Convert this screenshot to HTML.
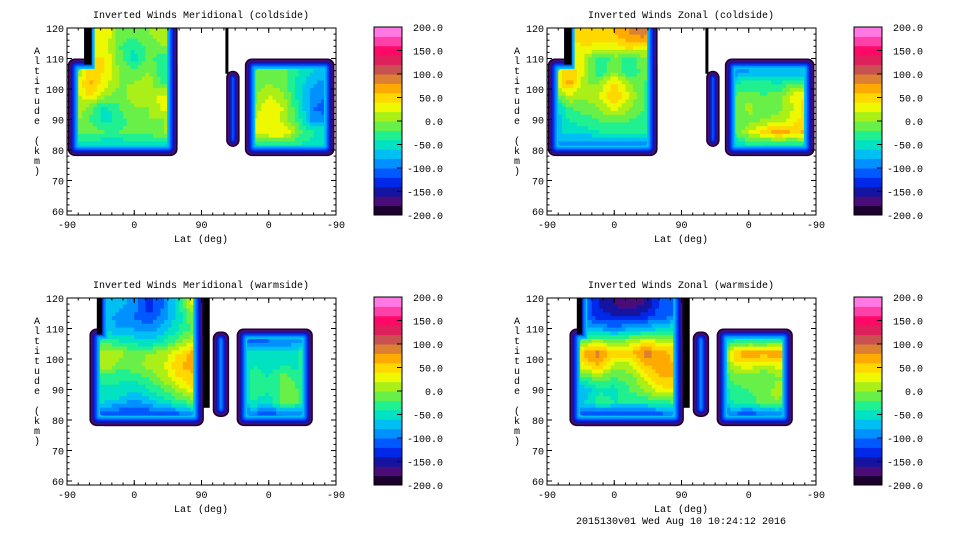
<!DOCTYPE html>
<html><head><meta charset="utf-8"><style>
html,body{margin:0;padding:0;background:#fff;width:960px;height:540px;overflow:hidden}
svg text{font-family:"Liberation Mono","DejaVu Sans Mono",monospace;font-size:10px;fill:#000}
</style></head><body>
<svg id="chart" width="960" height="540" viewBox="0 0 960 540" xmlns="http://www.w3.org/2000/svg"></svg>
<script>
// ---- data ----
const colorLevels=[-200,-180,-160,-140,-120,-100,-80,-60,-40,-20,0,20,40,60,80,100,120,140,160,180,200];
const colorbarTicks=[-200,-150,-100,-50,0,50,100,150,200];
const xTickPositions=[0,90,180,270,360];
const xTickLabels=["-90","0","90","0","-90"];
const yTickValues=[60,70,80,90,100,110,120];
const gridAlts=[118,114,110,106,102,98,94,90,86,82];
const gridPs=[10,30,50,70,90,110,130,150,170,190,210,230,250,270,290,310,330,350];
const titles=["Inverted Winds Meridional (coldside)","Inverted Winds Zonal (coldside)","Inverted Winds Meridional (warmside)","Inverted Winds Zonal (warmside)"];
const merCold=[
[0,30,40,-10,-10,0,10,-10,-180,-180,-170,-170,-10,0,-10,-30,-50,-60],
[0,30,40,-20,-40,-10,0,-10,-180,-180,-170,-170,-10,0,-10,-30,-50,-60],
[0,40,40,-10,-50,-10,-40,-10,-180,-180,-170,-170,-10,0,-10,-30,-50,-60],
[-10,50,40,0,-10,0,-40,-10,-180,-180,-170,-170,-10,0,-10,-40,-60,-70],
[0,70,30,0,0,10,-30,0,-180,-180,-170,-170,-10,0,-10,-50,-80,-90],
[10,40,10,-10,10,10,30,0,-180,-180,-170,-170,-10,20,0,-50,-90,-100],
[20,-10,-50,-20,0,0,30,0,-180,-180,-170,-170,0,40,20,-40,-100,-110],
[10,-20,-50,-30,-10,0,0,0,-180,-180,-170,-170,20,40,10,-30,-90,-100],
[-10,-10,-20,-20,-10,-10,0,0,-180,-180,-170,-170,30,40,40,-10,-40,-40],
[-50,-50,-60,-60,-50,-50,-50,-50,-180,-180,-170,-170,-30,-30,-30,-40,-50,-50]];
const zonCold=[
[-10,40,60,50,60,80,90,50,-180,-180,-170,-170,-100,-80,-80,-80,-80,-80],
[-10,30,40,30,30,50,40,20,-180,-180,-170,-170,-100,-80,-80,-80,-80,-80],
[0,20,20,-40,-10,-30,-10,-30,-180,-180,-170,-170,-100,-80,-80,-80,-80,-80],
[10,60,20,-40,0,-40,-10,-40,-180,-180,-170,-170,-100,-80,-80,-80,-80,-80],
[20,70,0,0,50,0,-20,-40,-180,-180,-170,-170,-40,-30,-30,-40,-20,-30],
[-20,20,0,20,60,20,-20,-30,-180,-180,-170,-170,-20,-10,-20,-10,30,40],
[-70,-20,-10,0,30,0,-20,-20,-180,-180,-170,-170,-20,10,-20,-10,20,60],
[-80,-40,-30,-20,-10,-20,-30,-30,-180,-180,-170,-170,-20,-10,0,10,30,60],
[-70,-50,-50,-40,-40,-40,-40,-40,-180,-180,-170,-170,-20,20,50,80,50,70],
[-90,-90,-100,-100,-100,-100,-100,-100,-180,-180,-170,-170,-60,-40,-40,-50,-40,-30]];
const merWarm=[
[-60,-60,-60,-70,-90,-130,-100,-40,30,-180,-140,-120,-110,-100,-100,-90,-30,-30],
[-60,-60,-70,-90,-100,-120,-90,-50,0,-180,-140,-120,-110,-100,-100,-90,-30,-30],
[-60,-60,-60,-80,-80,-90,-70,-40,-10,-180,-140,-120,-110,-100,-100,-90,-30,-30],
[-40,-40,-30,-40,-50,-60,-40,-10,20,-180,-140,-120,-110,-100,-100,-90,-30,-30],
[-20,-20,20,10,-10,0,10,40,70,-180,-140,-60,-50,-50,-50,-40,40,40],
[-20,-20,20,-10,-10,10,20,60,70,-180,-140,-60,-40,-50,-40,-50,20,20],
[-40,-40,-30,-40,-30,-20,10,40,60,-180,-140,-60,-30,-40,-10,-30,-30,-30],
[-60,-60,-50,-40,-60,-40,-20,10,40,-180,-140,-60,-30,-40,-10,-20,-40,-40],
[-60,-60,-60,-70,-90,-70,-50,-30,-10,-180,-140,-60,-40,-50,-10,-20,-40,-40],
[-100,-100,-110,-120,-120,-120,-120,-110,-90,-180,-140,-110,-100,-120,-100,-100,-100,-100]];
const zonWarm=[
[-80,-80,-100,-140,-160,-170,-160,-120,-120,-190,-190,-80,-40,-30,-30,-20,-30,-30],
[-80,-80,-110,-130,-140,-140,-130,-110,-100,-190,-190,-80,-40,-30,-30,-20,-30,-30],
[-60,-60,-70,-80,-90,-80,-70,-60,-40,-190,-190,-80,-40,-30,-30,-20,-30,-30],
[-40,-40,-10,10,-10,10,30,20,20,-190,-190,-80,-40,-30,-30,-20,-30,-30],
[-30,-30,70,90,50,50,90,80,50,-190,-190,-60,60,80,70,80,60,60],
[-20,-20,40,60,10,10,60,70,60,-190,-190,-60,20,30,10,30,20,20],
[-40,-40,-20,-10,-20,-10,20,60,60,-190,-190,-60,-10,-10,-20,0,-20,-20],
[-70,-70,-80,-40,-50,-20,0,30,40,-190,-190,-60,-30,-20,-10,10,-30,-30],
[-60,-60,-60,-30,-40,-40,-40,-30,-20,-190,-190,-60,-40,-30,-10,0,-40,-40],
[-110,-110,-120,-120,-120,-120,-120,-110,-100,-190,-190,-110,-100,-120,-100,-100,-100,-100]];
const panelGrids=[merCold,zonCold,merWarm,zonWarm];
// region extents [p0,p1,alt0,alt1]
const regionsCold=[[1,148,78,110],[23,148,80,126],[213,231,81,106],[238,358,78,110]];
const stripsCold=[[23,33,108,120],[212,216,105,120]];
const regionsWarm=[[30,183,78,110],[40,183,78,126],[195,217,81,109],[227,329,78,110]];
const stripsWarm=[[40,47,108,120],[182,191,84,120]];
// ---- rendering ----
const palette=["#1c0030","#4a0c78","#1414a0","#0028e8","#0058ff","#0090ff","#00bff2","#00e2c2","#20f090","#68f048","#aaf018","#eef800","#ffd800","#ffaa00","#de8034","#c85252","#e0205c","#ff0868","#ff40a8","#ff78e4"];
const svg=document.getElementById('chart');
const NS="http://www.w3.org/2000/svg";
function mk(tag,attrs,parent){const e=document.createElementNS(NS,tag);for(const k in attrs)e.setAttribute(k,attrs[k]);(parent||svg).appendChild(e);return e;}
function colorOf(v){let i=Math.floor((v-colorLevels[0])/20);i=Math.max(0,Math.min(palette.length-1,i));return palette[i];}
function bilerp(grid,p,a){
  let cx=(p-gridPs[0])/20;cx=Math.max(0,Math.min(gridPs.length-1,cx));
  let ry=(gridAlts[0]-a)/4;ry=Math.max(0,Math.min(gridAlts.length-1,ry));
  const c0=Math.floor(cx),c1=Math.min(gridPs.length-1,c0+1),r0=Math.floor(ry),r1=Math.min(gridAlts.length-1,r0+1);
  const fx=cx-c0,fy=ry-r0;
  const v00=grid[r0][c0],v01=grid[r0][c1],v10=grid[r1][c0],v11=grid[r1][c1];
  return (v00*(1-fx)+v01*fx)*(1-fy)+(v10*(1-fx)+v11*fx)*fy;
}
const edgeVals=[-190,-170,-150,-130,-110,-90,-70];
for(let k=0;k<4;k++){
  const ox=(k%2)*480, oy=Math.floor(k/2)*270;
  const X0=ox+67,X1=ox+336,Y0=oy+28,Y1=oy+215;
  const xs=p=>X0+p*269/360;
  const ya=a=>oy+211-(a-60)*183/60;
  const g=mk('g',{});
  
  
  const t=mk('text',{x:ox+201,y:oy+18,'text-anchor':'middle'},g);t.textContent=titles[k];
  
  const cid='clip'+k;
  const defs=mk('defs',{},g);
  const cp=mk('clipPath',{id:cid},defs);mk('rect',{x:X0,y:Y0,width:X1-X0,height:Y1-Y0},cp);
  const regions=k<2?regionsCold:regionsWarm;
  const strips=k<2?stripsCold:stripsWarm;
  const inner=mk('clipPath',{id:cid+'i'},defs);
  const plot=mk('g',{'clip-path':'url(#'+cid+')'},g);
  
  
  edgeVals.forEach((ev,li)=>{
    const ins=li*1.5;
    regions.forEach(r=>{
      const x=xs(r[0])+ins,y=ya(r[3])+ins,w=xs(r[1])-xs(r[0])-2*ins,h=ya(r[2])-ya(r[3])-2*ins;
      if(w>0&&h>0){const rr=mk('rect',{x:x,y:y,width:w,height:h,rx:Math.max(1,7-ins*0.6),fill:colorOf(ev)},plot);
        }
    });
  });
  regions.forEach(r=>{const ins=10.5;const w=xs(r[1])-xs(r[0])-2*ins,h=ya(r[2])-ya(r[3])-2*ins;
    if(w>0&&h>0)mk('rect',{x:xs(r[0])+ins,y:ya(r[3])+ins,width:w,height:h,rx:3},inner);});
  const cells=mk('g',{'clip-path':'url(#'+cid+'i)'},plot);
  const grid=panelGrids[k];
  const sp=5,sa=1.25;
  for(let p=0;p<360;p+=sp){for(let a=78;a<122;a+=sa){
    const v=bilerp(grid,p+sp/2,a+sa/2);
    const c=mk('rect',{x:xs(p),y:ya(a+sa),width:269/360*sp+0.6,height:183/60*sa+0.6,fill:colorOf(v)},cells);
    
    
  }}
  strips.forEach(s=>{const e=mk('rect',{x:xs(s[0]),y:ya(s[3]),width:xs(s[1])-xs(s[0]),height:ya(s[2])-ya(s[3]),fill:'#000'},plot);
    });
  const box=mk('rect',{x:X0,y:Y0,width:X1-X0,height:Y1-Y0,fill:'none',stroke:'#000','stroke-width':1},g);
  
  xTickPositions.forEach((p,i)=>{
    const x=xs(p);
    mk('line',{x1:x,y1:Y1,x2:x,y2:Y1-5,stroke:'#000'},g);mk('line',{x1:x,y1:Y0,x2:x,y2:Y0+5,stroke:'#000'},g);
    const tl=mk('text',{x:x,y:Y1+13,'text-anchor':'middle'},g);tl.textContent=xTickLabels[i];
    
  });
  for(let p=0;p<=360;p+=15){const x=xs(p);mk('line',{x1:x,y1:Y1,x2:x,y2:Y1-2.5,stroke:'#000'},g);mk('line',{x1:x,y1:Y0,x2:x,y2:Y0+2.5,stroke:'#000'},g);}
  yTickValues.forEach(v=>{
    const y=ya(v);
    mk('line',{x1:X0,y1:y,x2:X0+5,y2:y,stroke:'#000'},g);mk('line',{x1:X1,y1:y,x2:X1-5,y2:y,stroke:'#000'},g);
    const tl=mk('text',{x:X0-3,y:y+4,'text-anchor':'end'},g);tl.textContent=String(v);
    
  });
  for(let v=60;v<=120;v+=2){const y=ya(v);mk('line',{x1:X0,y1:y,x2:X0+2.5,y2:y,stroke:'#000'},g);mk('line',{x1:X1,y1:y,x2:X1-2.5,y2:y,stroke:'#000'},g);}
  const xt=mk('text',{x:ox+201,y:oy+242,'text-anchor':'middle'},g);xt.textContent='Lat (deg)';
  
  const yt=mk('g',{},g);
  'Altitude (km)'.split('').forEach((ch,i)=>{const c=mk('text',{x:ox+37,y:oy+54+i*10,'text-anchor':'middle'},yt);c.textContent=ch;});
  const cb=mk('g',{},g);
  const CX=ox+374,CW=28,CT=oy+27,CB=oy+215;
  const cy=v=>CB-(v+200)/400*(CB-CT);
  for(let i=0;i<colorLevels.length-1;i++){
    const r=mk('rect',{x:CX,y:cy(colorLevels[i+1]),width:CW,height:cy(colorLevels[i])-cy(colorLevels[i+1])+0.5,fill:colorOf(colorLevels[i]+10)},cb);
    
  }
  mk('rect',{x:CX,y:CT,width:CW,height:CB-CT,fill:'none',stroke:'#000'},cb);
  colorbarTicks.forEach(v=>{
    const y=cy(v);mk('line',{x1:CX+CW-5,y1:y,x2:CX+CW,y2:y,stroke:'#000'},cb);
    const tl=mk('text',{x:ox+443,y:y+4,'text-anchor':'end'},cb);tl.textContent=v.toFixed(1);
    
  });
}
const ft=mk('text',{x:681,y:524,'text-anchor':'middle'});ft.textContent='2015130v01 Wed Aug 10 10:24:12 2016';

</script>
</body></html>
